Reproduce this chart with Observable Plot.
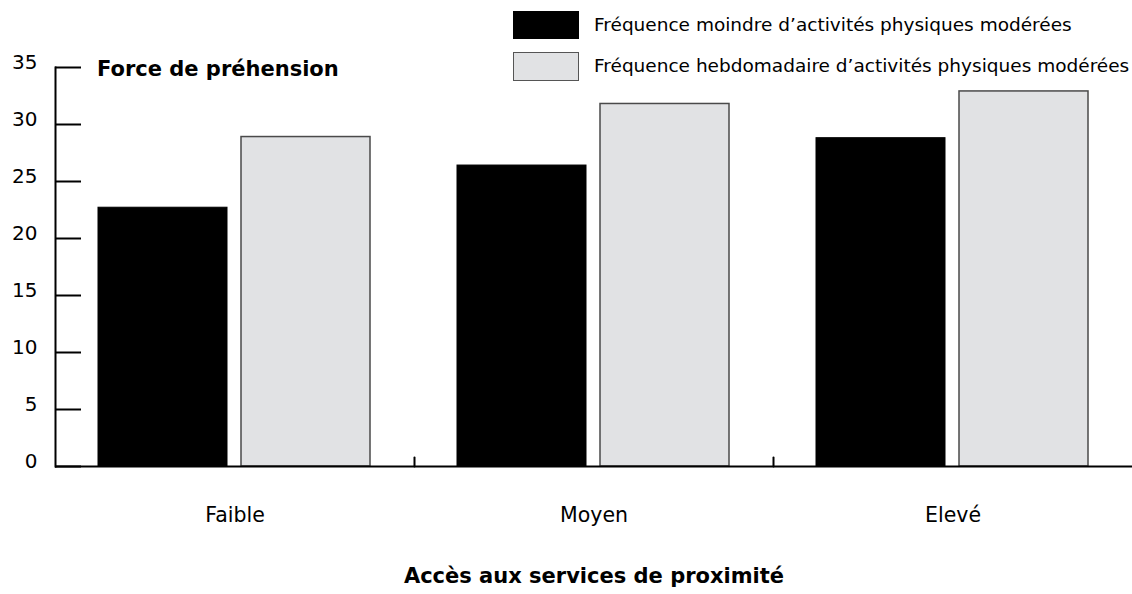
<!DOCTYPE html>
<html><head><meta charset="utf-8">
<script src="https://cdn.jsdelivr.net/npm/d3@7"></script>
<script src="https://cdn.jsdelivr.net/npm/@observablehq/plot@0.6"></script>
<style>
body{margin:0;background:#fff;font-family:"DejaVu Sans",sans-serif;color:#000;}
#wrap{position:relative;width:1132px;height:594px;overflow:hidden;}
#wrap svg{position:absolute;left:0;top:0;}
.ov{position:absolute;white-space:nowrap;line-height:1;}
.sw{position:absolute;box-sizing:border-box;}
</style></head><body><div id="wrap"></div><script>
const categories = ["Faible", "Moyen", "Elevé"];
const seriesNames = ["Fréquence moindre d’activités physiques modérées", "Fréquence hebdomadaire d’activités physiques modérées"];
const moindre = [22.7, 26.4, 28.8];
const hebdo = [28.9, 31.8, 32.9];
const yTicks = [0, 5, 10, 15, 20, 25, 30, 35];
const fills = ["#000000", "#e1e2e4"];
const strokes = ["#000000", "#4a4a4a"];
const yTitle = "Force de préhension";
const xTitle = "Accès aux services de proximité";

const rows = categories.flatMap((c, i) => [
  {cat: c, s: seriesNames[0], v: moindre[i]},
  {cat: c, s: seriesNames[1], v: hebdo[i]}
]);
const tickShape = {draw(ctx, l) { ctx.moveTo(0, 0); ctx.lineTo(0, -l); }};

const plot = Plot.plot({
  width: 1132, height: 594,
  marginLeft: 54, marginRight: 0, marginTop: 67, marginBottom: 128,
  style: {fontFamily: "DejaVu Sans", fontSize: "18px", color: "#000", background: "white"},
  fx: {domain: categories, padding: 0, label: null},
  x: {domain: seriesNames, paddingInner: 0.097, paddingOuter: 0.296, axis: null},
  y: {domain: [0, 35], axis: null},
  marks: [
    Plot.barY(rows.filter(d => d.s === seriesNames[0]), {fx: "cat", x: "s", y: "v", fill: fills[0], stroke: strokes[0], strokeWidth: 1}),
    Plot.barY(rows.filter(d => d.s === seriesNames[1]), {fx: "cat", x: "s", y: "v", fill: fills[1], stroke: strokes[1], strokeWidth: 1.5}),
    Plot.ruleY([0], {stroke: "#000", strokeWidth: 2}),
    Plot.frame({anchor: "left", facetAnchor: "left", stroke: "#000", strokeWidth: 2}),
    Plot.vector(categories.slice(0, 2), {fx: d => d, frameAnchor: "bottom-right", length: 9, rotate: 0, anchor: "start", shape: tickShape, stroke: "#000", strokeWidth: 2}),
    Plot.axisY(yTicks, {anchor: "left", tickSize: -26, text: null, strokeWidth: 2, label: null}),
    Plot.axisY(yTicks, {anchor: "left", tickSize: 0, tickPadding: 18, dy: -5, fontSize: 20, label: null}),
    Plot.axisFx({anchor: "bottom", tickSize: 0, tickPadding: 41, fontSize: 20.5, label: null})
  ]
});
const wrap = document.getElementById("wrap");
wrap.appendChild(plot);

function addText(txt, left, top, size, weight, center) {
  const d = document.createElement("div");
  d.className = "ov";
  d.textContent = txt;
  d.style.fontSize = size + "px";
  d.style.fontWeight = weight;
  d.style.top = top + "px";
  d.style.left = left + "px";
  if (center) d.style.transform = "translateX(-50%)";
  wrap.appendChild(d);
}
function addSwatch(left, top, w, h, fill, stroke) {
  const s = document.createElement("div");
  s.className = "sw";
  Object.assign(s.style, {left: left + "px", top: top + "px", width: w + "px", height: h + "px", background: fill, border: "1.5px solid " + stroke});
  wrap.appendChild(s);
}
addText(yTitle, 97, 59, 21, "bold", false);
addText(xTitle, 594, 566, 21, "bold", true);
addSwatch(513, 11, 66, 28, fills[0], strokes[0]);
addSwatch(513, 52, 66, 29, fills[1], "#555");
addText(seriesNames[0], 594, 16, 18.5, "normal", false);
addText(seriesNames[1], 594, 57, 18.5, "normal", false);
</script></body></html>
